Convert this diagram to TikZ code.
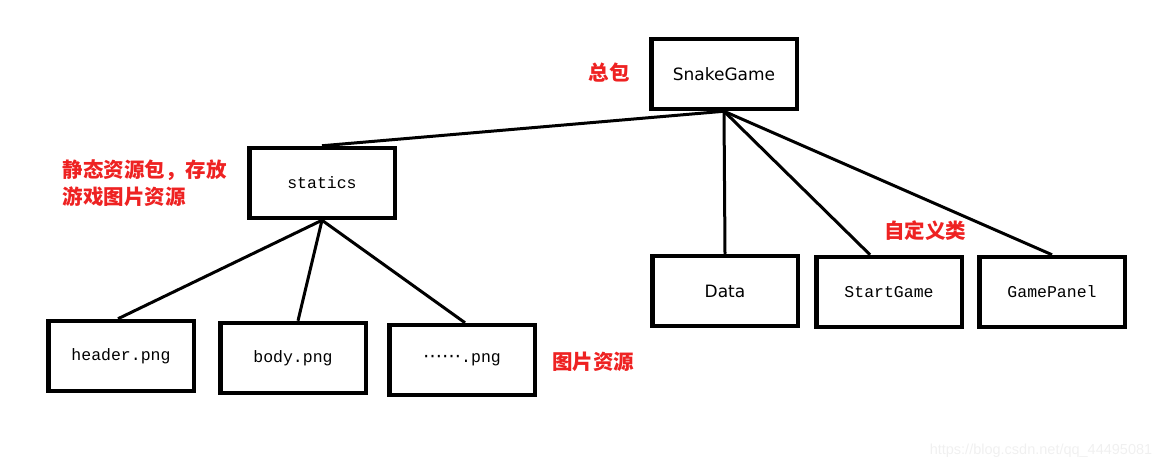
\documentclass[tikz,border=0pt]{standalone}
\usepackage{fontspec}
\usetikzlibrary{positioning}
\setmainfont{Liberation Mono}
\newfontfamily\cjkfont{Noto Sans CJK SC}
\newfontfamily\plainsans{DejaVu Sans}
\newfontfamily\marksans{Liberation Sans}
\definecolor{labelred}{RGB}{238,34,34}
\definecolor{watermark}{RGB}{240,240,240}
\begin{document}
\begin{tikzpicture}[x=1pt, y=-1pt,
      box/.style={draw=black,line width=4.5pt,minimum width=145.5pt,minimum height=70pt,inner sep=0pt,text=black,font=\fontsize{16.5}{18}\selectfont},
      link/.style={line width=3pt},
      note/.style={text=labelred,font=\cjkfont\bfseries\fontsize{20.5}{27}\selectfont}]
      \useasboundingbox (0,0) rectangle (1169,469);
      \node[box] at (724,74)  (game) {\plainsans\fontsize{17}{18}\selectfont SnakeGame};
      \node[box] at (322,183) (statics) {statics};
      \node[box] at (121,356) (header) {header.png};
      \node[box] at (293,358) (body) {body.png};
      \node[box] at (462,360) (more) {{\plainsans\fontsize{19}{18}\selectfont ⋯⋯}.png};
      \node[box] at (725,291) (data) {\plainsans\fontsize{17}{18}\selectfont Data};
      \node[box] at (889,292) (start) {StartGame};
      \node[box] at (1052,292) (panel) {GamePanel};
      \node[note] at (609,73) (mainnote) {总包};
      \node[note,align=left,anchor=west] at (59,183) (staticnote) {静态资源包，存放\\游戏图片资源};
      \node[note] at (925,231) (classnote) {自定义类};
      \node[note] at (593,362) (picnote) {图片资源};
      \node[text=watermark,font=\marksans\fontsize{14.5}{16}\selectfont] at (1041,451) (mark) {https://blog.csdn.net/qq\_44495081};
      \draw[link] (game.south) -- (statics.north);
      \draw[link] (game.south) -- (data.north);
      \draw[link] (game.south) -- ([xshift=-19pt]start.north);
      \draw[link] (game.south) -- (panel.north);
      \draw[link] (statics.south) -- ([xshift=-3pt]header.north);
      \draw[link] (statics.south) -- ([xshift=5pt]body.north);
      \draw[link] (statics.south) -- ([xshift=3pt]more.north);
    \end{tikzpicture}
\end{document}
